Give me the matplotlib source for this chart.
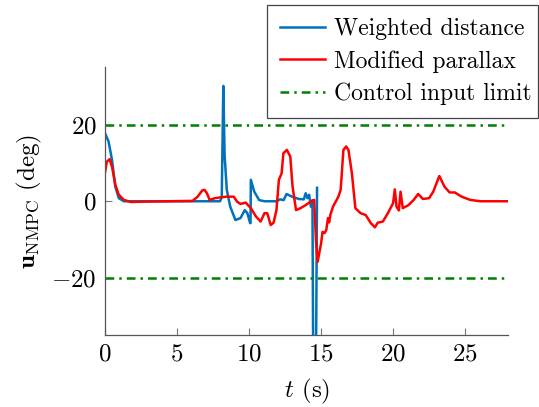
import matplotlib
matplotlib.use("Agg")
import matplotlib.pyplot as plt

plt.rcParams["font.family"] = "serif"
plt.rcParams["font.serif"] = ["cmr10", "DejaVu Serif"]
plt.rcParams["mathtext.fontset"] = "cm"
plt.rcParams["axes.formatter.use_mathtext"] = True

# Weighted distance (blue)
t_wd = [0.0, 0.24, 0.48, 0.71, 0.95, 1.3, 7.98, 8.1, 8.21, 8.3, 8.45, 8.69, 9.05,
        9.4, 9.7, 9.88, 10.07, 10.1, 10.12, 10.36, 10.7, 11.07, 11.9, 12.14, 12.4,
        12.6, 12.98, 13.45, 13.8, 13.93, 14.05, 14.17, 14.29, 14.4, 14.45, 14.65, 14.72]
u_wd = [17.7, 15.6, 10.8, 3.8, 0.8, 0.0, 0.0, 1.0, 30.1, 12.0, 3.0, -1.4, -4.9,
        -4.4, -2.3, -3.1, -5.7, -5.7, 5.6, 2.5, 0.3, 0.0, 0.0, 0.5, 0.3,
        1.9, 1.2, 0.6, 0.5, 2.1, 0.8, 1.7, -1.4, 0.3, -40.0, -40.0, 3.5]

# Modified parallax (red)
t_mp = [0.0, 0.12, 0.31, 0.48, 0.71, 0.95, 1.3, 1.8, 2.7, 6.07, 6.43, 6.74, 6.9,
        7.07, 7.26, 7.62, 7.98, 8.45, 8.93, 9.17, 9.4, 9.76, 10.12, 10.48, 10.8,
        11.07, 11.26, 11.5, 11.7, 11.9, 12.07, 12.26, 12.38, 12.62, 12.86, 13.02,
        13.26, 13.57, 13.93, 14.17, 14.45, 14.52, 14.64, 14.76, 15.0, 15.1, 15.24,
        15.36, 15.48, 15.56, 15.64, 15.83, 16.2, 16.36, 16.55, 16.74, 16.9, 17.14,
        17.38, 17.74, 18.1, 18.45, 18.74, 18.93, 19.29, 19.64, 20.0, 20.12, 20.24,
        20.4, 20.52, 20.67, 21.07, 21.43, 21.74, 22.07, 22.5, 22.79, 23.21, 23.57,
        23.93, 24.29, 24.76, 25.36, 26.07, 27.9]
u_mp = [7.7, 10.3, 11.0, 9.0, 4.3, 1.7, 0.35, -0.2, -0.1, 0.1, 1.2, 2.8, 3.0,
        2.1, 0.35, 0.8, 1.0, 1.2, 1.2, -0.1, -0.7, -0.35, -1.8, -4.0, -5.3,
        -3.1, -3.1, -6.2, -5.6, -2.3, 5.6, 7.3, 12.5, 13.4, 11.7, 3.8,
        -2.3, -1.8, -1.0, -0.35, 0.2, 0.35, -10.0, -15.8, -11.0, -8.0, -8.3,
        -7.5, -4.4, -5.5, -3.6, -1.4, 1.2, 3.0, 13.4, 14.3, 13.4, 7.3,
        -1.8, -3.1, -3.6, -5.7, -6.8, -5.6, -5.3, -3.1, -0.5, 3.1, -1.4,
        -2.4, 2.5, -1.8, -1.0, 0.35, 1.9, 0.6, 0.8, 2.5, 6.6, 3.8,
        2.3, 2.3, 1.2, 0.35, 0.0, 0.0]

# Control input limits
t_lim = [0.0, 27.9]
u_max = [20.0, 20.0]
u_min = [-20.0, -20.0]

fig = plt.figure(figsize=(5.39, 4.07), dpi=100)
ax = fig.add_axes([0.195, 0.176, 0.748, 0.659])

ax.plot(t_wd, u_wd, color="#0072BD", lw=1.8, label="Weighted distance")
ax.plot(t_mp, u_mp, color="#FF0000", lw=1.8, label="Modified parallax")
ax.plot(t_lim, u_max, color="#008000", lw=1.8, ls=(0, (3.5, 2, 1, 2)),
        label="Control input limit")
ax.plot(t_lim, u_min, color="#008000", lw=1.8, ls=(0, (3.5, 2, 1, 2)))

ax.set_xlim(0, 28)
ax.set_ylim(-35, 35)
ax.set_xticks([0, 5, 10, 15, 20, 25])
ax.set_yticks([-20, 0, 20])

for side in ["top", "right"]:
    ax.spines[side].set_visible(False)
for side in ["left", "bottom"]:
    ax.spines[side].set_color("#555555")
    ax.spines[side].set_linewidth(0.9)
ax.tick_params(direction="in", length=5, width=0.8, color="#777777",
               labelsize=18, pad=6)

ax.set_xlabel("$t$ (s)", fontsize=18, labelpad=8)
ax.set_ylabel(r"$\mathbf{u}_{\mathrm{NMPC}}$ (deg)", fontsize=18, labelpad=5)

leg = fig.legend(loc="upper left",
                 bbox_to_anchor=(267 / 539, 0, 271 / 539, 1 - 5 / 407),
                 mode="expand", fontsize=17, frameon=True, fancybox=False,
                 framealpha=1, edgecolor="#444444", handlelength=1.9,
                 labelspacing=0.42, borderpad=0.55, handletextpad=0.4,
                 borderaxespad=0)
leg.get_frame().set_linewidth(0.9)

fig.savefig("out.png", dpi=100)
